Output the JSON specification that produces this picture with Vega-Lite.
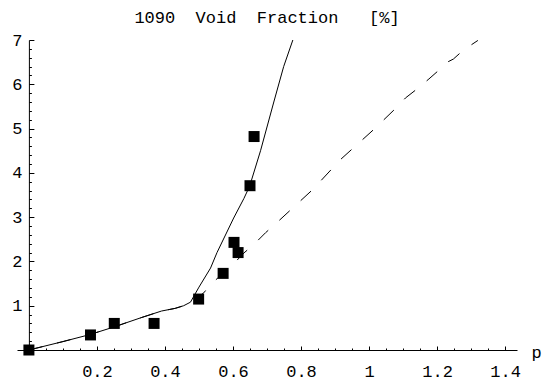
{
  "$schema": "https://vega.github.io/schema/vega-lite/v6.json",
  "width": 500,
  "height": 310,
  "autosize": {"type": "none"},
  "padding": {"left": 17, "top": 40, "right": 26, "bottom": 30},
  "background": "white",
  "config": {
    "view": {"stroke": null},
    "axis": {"grid": false, "domainColor": "black", "tickColor": "black", "labelColor": "black", "titleColor": "black", "domainWidth": 1, "tickWidth": 1, "labelFont": "Liberation Mono", "titleFont": "Liberation Mono", "labelFontSize": 17, "titleFontSize": 17, "titleFontWeight": "normal"}
  },
  "title": {"text": "1090\u00a0\u00a0Void\u00a0\u00a0Fraction\u00a0\u00a0\u00a0[%]", "font": "Liberation Mono", "fontSize": 17, "fontWeight": "normal", "color": "black", "frame": "group", "anchor": "middle", "offset": 4},
  "datasets": {
    "points": [
      {"p": 0.0, "v": 0.0},
      {"p": 0.181, "v": 0.34},
      {"p": 0.251, "v": 0.6},
      {"p": 0.368, "v": 0.6},
      {"p": 0.499, "v": 1.15},
      {"p": 0.571, "v": 1.73},
      {"p": 0.603, "v": 2.43},
      {"p": 0.615, "v": 2.2},
      {"p": 0.65, "v": 3.71},
      {"p": 0.662, "v": 4.82}
    ],
    "solid": [
      {"p": 0.0, "v": 0.0},
      {"p": 0.1, "v": 0.19},
      {"p": 0.18, "v": 0.35},
      {"p": 0.25, "v": 0.52},
      {"p": 0.33, "v": 0.73},
      {"p": 0.39, "v": 0.88},
      {"p": 0.43, "v": 0.94},
      {"p": 0.455, "v": 1.0},
      {"p": 0.475, "v": 1.08},
      {"p": 0.5, "v": 1.42},
      {"p": 0.534, "v": 1.85},
      {"p": 0.553, "v": 2.2},
      {"p": 0.602, "v": 2.98},
      {"p": 0.632, "v": 3.42},
      {"p": 0.649, "v": 3.7},
      {"p": 0.681, "v": 4.5},
      {"p": 0.72, "v": 5.6},
      {"p": 0.749, "v": 6.4},
      {"p": 0.776, "v": 7.0}
    ],
    "dashed": [
      {"p": 0.0, "v": 0.0},
      {"p": 0.1, "v": 0.19},
      {"p": 0.18, "v": 0.35},
      {"p": 0.25, "v": 0.52},
      {"p": 0.33, "v": 0.73},
      {"p": 0.39, "v": 0.88},
      {"p": 0.43, "v": 0.94},
      {"p": 0.455, "v": 1.0},
      {"p": 0.475, "v": 1.08},
      {"p": 0.514, "v": 1.29},
      {"p": 0.534, "v": 1.48},
      {"p": 0.6, "v": 1.93},
      {"p": 0.632, "v": 2.19},
      {"p": 0.661, "v": 2.38},
      {"p": 0.696, "v": 2.65},
      {"p": 0.728, "v": 2.87},
      {"p": 0.834, "v": 3.62},
      {"p": 0.916, "v": 4.3},
      {"p": 1.014, "v": 4.98},
      {"p": 1.076, "v": 5.44},
      {"p": 1.107, "v": 5.69},
      {"p": 1.142, "v": 5.9},
      {"p": 1.176, "v": 6.12},
      {"p": 1.21, "v": 6.35},
      {"p": 1.225, "v": 6.48},
      {"p": 1.248, "v": 6.57},
      {"p": 1.277, "v": 6.77},
      {"p": 1.32, "v": 6.99}
    ]
  },
  "encoding": {
    "x": {
      "field": "p", "type": "quantitative",
      "scale": {"domain": [-0.035, 1.435], "nice": false, "zero": false},
      "axis": {
        "title": "p", "titleX": 514, "titleY": 7, "titleAlign": "left", "titleBaseline": "alphabetic", "titleAngle": 0,
        "values": [0, 0.05, 0.1, 0.15, 0.2, 0.25, 0.3, 0.35, 0.4, 0.45, 0.5, 0.55, 0.6, 0.65, 0.7, 0.75, 0.8, 0.85, 0.9, 0.95, 1, 1.05, 1.1, 1.15, 1.2, 1.25, 1.3, 1.35, 1.4],
        "labelExpr": "(abs(datum.value*5 - round(datum.value*5)) < 0.001 && datum.value > 0.01) ? toString(round(datum.value*10)/10) : ''",
        "tickSize": {"condition": {"test": "abs(datum.value*5 - round(datum.value*5)) < 0.001", "value": -4}, "value": -2},
        "labelPadding": 17,
        "labelFlush": false,
        "labelOverlap": false
      }
    },
    "y": {
      "field": "v", "type": "quantitative",
      "scale": {"domain": [0, 7], "nice": false, "zero": false},
      "axis": {
        "title": null,
        "offset": -11.9,
        "values": [0, 0.2, 0.4, 0.6, 0.8, 1, 1.2, 1.4, 1.6, 1.8, 2, 2.2, 2.4, 2.6, 2.8, 3, 3.2, 3.4, 3.6, 3.8, 4, 4.2, 4.4, 4.6, 4.8, 5, 5.2, 5.4, 5.6, 5.8, 6, 6.2, 6.4, 6.6, 6.8, 7],
        "labelExpr": "(abs(datum.value - round(datum.value)) < 0.001 && datum.value > 0.5) ? toString(round(datum.value)) : ''",
        "tickSize": {"condition": {"test": "abs(datum.value - round(datum.value)) < 0.001", "value": -5}, "value": -2.5},
        "labelPadding": 12,
        "labelFlush": false,
        "labelOverlap": false
      }
    }
  },
  "layer": [
    {"data": {"name": "dashed"}, "mark": {"type": "line", "color": "black", "strokeWidth": 1, "strokeDash": [14, 15]}},
    {"data": {"name": "solid"}, "mark": {"type": "line", "color": "black", "strokeWidth": 1}},
    {"data": {"name": "points"}, "mark": {"type": "point", "shape": "square", "filled": true, "color": "black", "opacity": 1, "size": 121}}
  ]
}
